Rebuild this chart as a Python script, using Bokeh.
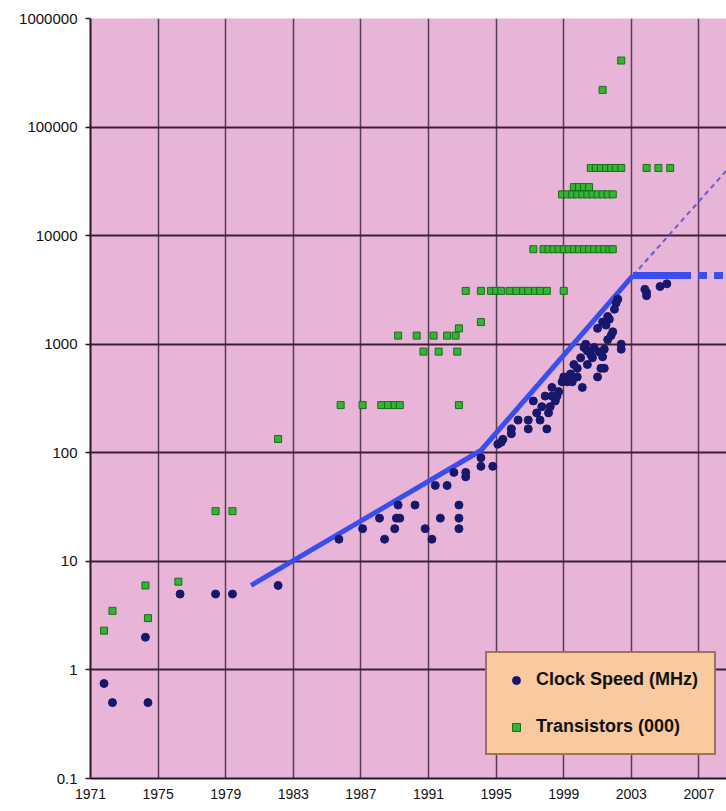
from bokeh.plotting import figure
from bokeh.models import Range1d, FixedTicker, CustomJSTickFormatter, Legend, LegendItem
from bokeh.embed import file_html
from bokeh.resources import INLINE

# ---------------- data ----------------
x_ticks = [1971, 1975, 1979, 1983, 1987, 1991, 1995, 1999, 2003, 2007]
y_ticks = [0.1, 1, 10, 100, 1000, 10000, 100000, 1000000]

clock_year = [1971.8, 1972.3, 1974.4, 1974.25, 1976.3, 1978.4, 1979.4, 1982.1,
              1985.7, 1987.1, 1988.1, 1988.4, 1989.0, 1989.1, 1989.3, 1989.2,
              1990.2, 1990.8, 1991.2, 1991.7, 1991.4, 1992.1, 1992.5, 1992.8,
              1992.8, 1992.8, 1993.2, 1993.2, 1994.1, 1994.1, 1994.8, 1995.1,
              1995.3, 1995.4, 1995.9, 1995.9, 1996.3, 1996.9, 1996.9, 1997.2,
              1997.4, 1997.6, 1997.7, 1998.0, 1998.1, 1998.2, 1997.9, 1998.3,
              1998.3, 1998.5, 1998.6, 1998.7, 1998.9, 1999.0, 1999.2, 1999.4,
              1999.5, 1999.6, 1999.8, 1999.8, 2000.0, 2000.1, 2000.2, 2000.3,
              2000.4, 2000.4, 2000.6, 2000.7, 2000.8, 2001.0, 2001.0, 2001.1,
              2001.2, 2001.3, 2001.3, 2001.4, 2001.4, 2001.5, 2001.6, 2001.6,
              2001.7, 2001.8, 2001.9, 2002.0, 2002.1, 2002.2, 2002.4, 2002.4,
              2003.8, 2003.9, 2003.9, 2004.7, 2005.1]
clock_mhz = [0.75, 0.5, 0.5, 2.0, 5.0, 5.0, 5.0, 6.0,
             16, 20, 25, 16, 20, 25, 25, 33,
             33, 20, 16, 25, 50, 50, 66, 33,
             25, 20, 66, 60, 90, 75, 75, 120,
             125, 133, 166, 150, 200, 200, 166, 300,
             233, 200, 266, 166, 233, 266, 333, 400,
             333, 300, 333, 366, 450, 500, 450, 533,
             450, 650, 500, 600, 750, 400, 933, 1000,
             650, 866, 800, 750, 933, 500, 1400, 850,
             600, 766, 1600, 900, 600, 1500, 1100, 1800,
             1700, 1200, 1300, 2100, 2400, 2600, 1000, 900,
             3200, 3000, 2800, 3400, 3600]

trans_year = [1971.8, 1972.3, 1974.25, 1974.4, 1976.2, 1978.4, 1979.4, 1982.1,
              1985.8, 1987.1, 1988.2, 1988.6, 1989.0, 1989.3, 1992.8,
              1989.2, 1990.3, 1991.3, 1992.1, 1992.6, 1992.8,
              1990.7, 1991.6, 1992.7,
              1993.2, 1994.1,
              1994.1, 1994.7, 1995.0, 1995.3, 1995.8, 1996.2, 1996.6, 1996.9,
              1997.3, 1997.6, 1998.0, 1999.0,
              1997.2, 1997.8, 1998.1, 1998.4, 1998.7, 1999.0, 1999.3, 1999.6,
              1999.9, 2000.2, 2000.5, 2000.8, 2001.1, 2001.4, 2001.7, 2001.9,
              1998.9, 1999.2, 1999.5, 1999.8, 2000.1, 2000.4, 2000.7, 2001.0,
              2001.3, 2001.6, 2001.9,
              1999.6, 1999.9, 2000.2, 2000.5,
              2000.6, 2000.9, 2001.2, 2001.5, 2001.8, 2002.1, 2002.4,
              2003.9, 2004.6, 2005.3,
              2001.3, 2002.4]
trans_k = [2.3, 3.5, 6.0, 3.0, 6.5, 29, 29, 134,
           275, 275, 275, 275, 275, 275, 275,
           1200, 1200, 1200, 1200, 1200, 1400,
           855, 855, 855,
           3100, 1600,
           3100, 3100, 3100, 3100, 3100, 3100, 3100, 3100,
           3100, 3100, 3100, 3100,
           7500, 7500, 7500, 7500, 7500, 7500, 7500, 7500,
           7500, 7500, 7500, 7500, 7500, 7500, 7500, 7500,
           24000, 24000, 24000, 24000, 24000, 24000, 24000, 24000,
           24000, 24000, 24000,
           28000, 28000, 28000, 28000,
           42000, 42000, 42000, 42000, 42000, 42000, 42000,
           42000, 42000, 42000,
           220000, 410000]

trend_year = [1980.5, 1994.1, 2003.1]
trend_val = [6.0, 105, 4300]
flat_year = [2003.1, 2006.0]
flat_val = [4300, 4300]
flat_dash_year = [2006.0, 2008.7]
flat_dash_val = [4300, 4300]
extrap_year = [2003.1, 2008.7]
extrap_val = [4300, 41000]

# ---------------- figure ----------------
p = figure(width=726, height=805,
           x_range=Range1d(1971, 2008.63), y_range=Range1d(0.1, 1000000),
           y_axis_type="log", output_backend="svg", toolbar_location=None,
           min_border_left=90, min_border_right=0, min_border_top=18,
           min_border_bottom=27)

p.background_fill_color = "#e8b4d8"
p.border_fill_color = "white"
p.outline_line_color = None

# axes
p.yaxis.ticker = FixedTicker(ticks=y_ticks)
p.yaxis.formatter = CustomJSTickFormatter(
    code="return tick < 1 ? tick.toFixed(1) : tick.toFixed(0);")
p.xaxis.ticker = FixedTicker(ticks=x_ticks)
for ax in (p.xaxis, p.yaxis):
    ax.axis_line_color = "#2a1620"
    ax.axis_line_width = 2
    ax.major_label_text_font = "Liberation Sans"
    ax.major_label_text_color = "#111111"
    ax.minor_tick_line_color = None
    ax.major_tick_in = 0
p.yaxis.major_tick_out = 5
p.yaxis.major_tick_line_color = "#2a1620"
p.yaxis.major_tick_line_width = 1.5
p.yaxis.major_label_text_font_size = "15px"
p.yaxis.major_label_standoff = 8
p.xaxis.major_tick_out = 0
p.xaxis.major_tick_line_color = None
p.xaxis.major_label_text_font_size = "14px"
p.xaxis.major_label_standoff = 10

# grids
p.ygrid.ticker = FixedTicker(ticks=y_ticks)
p.xgrid.ticker = FixedTicker(ticks=x_ticks)
p.ygrid.grid_line_color = "#3a2030"
p.ygrid.grid_line_width = 2
p.xgrid.grid_line_color = "#5a3c50"
p.xgrid.grid_line_width = 1.5
p.ygrid.minor_grid_line_color = None

# trend lines
p.line(extrap_year, extrap_val, line_color="#6a5ad0", line_width=2,
       line_dash="5 4")
p.line(trend_year, trend_val, line_color="#3a4ef0", line_width=5,
       line_join="round")
p.line(flat_year, flat_val, line_color="#3a4ef0", line_width=7)
p.line(flat_dash_year, flat_dash_val, line_color="#3a4ef0", line_width=7,
       line_dash="9 7")

# points
r_tr = p.scatter(trans_year, trans_k, marker="square", size=7,
                 fill_color="#33b533", line_color="#1c6b1c", line_width=1)
r_clock = p.scatter(clock_year, clock_mhz, marker="circle", size=8,
                    fill_color="#17176b", line_color="#17176b")

legend = Legend(items=[LegendItem(label="Clock Speed (MHz)", renderers=[r_clock]),
                       LegendItem(label="Transistors (000)", renderers=[r_tr])],
                location=(395, 23))
legend.background_fill_color = "#f9c9a0"
legend.background_fill_alpha = 1
legend.border_line_color = "#4a1c1c"
legend.border_line_width = 2
legend.label_text_font = "Liberation Sans"
legend.label_text_font_style = "bold"
legend.label_text_font_size = "18px"
legend.label_text_color = "#111111"
legend.padding = 16
legend.spacing = 26
legend.glyph_width = 26
legend.glyph_height = 20
legend.label_height = 20
legend.label_standoff = 7
p.add_layout(legend)

open("out.html", "w").write(file_html(p, INLINE))
